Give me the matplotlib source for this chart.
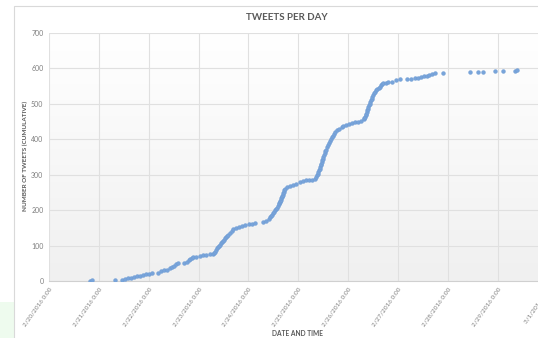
import numpy as np
import matplotlib.pyplot as plt
from matplotlib.patches import Rectangle
from matplotlib.colors import LinearSegmentedColormap
import datetime as dt

# Tweets per day (cumulative) - valores leidos del grafico
# dias desde 2/20/2016 0:00 y numero acumulado de tweets
dias = [0.82, 0.86, 1.32,
        1.46, 1.53, 1.59, 1.65, 1.71, 1.77, 1.83, 1.89, 1.95, 2.01, 2.07,
        2.19, 2.25, 2.31, 2.37, 2.43, 2.47, 2.51, 2.55, 2.59,
        2.71, 2.76, 2.80, 2.83, 2.86, 2.89, 2.95, 3.03, 3.09, 3.15, 3.23, 3.29,
        3.31, 3.33, 3.35, 3.37, 3.39, 3.41, 3.43, 3.45, 3.47, 3.49, 3.51, 3.53,
        3.55, 3.57, 3.59, 3.63, 3.67, 3.70, 3.75, 3.81, 3.87, 3.93, 4.01, 4.07, 4.13,
        4.30, 4.35, 4.41, 4.43, 4.45, 4.48, 4.50, 4.52, 4.53, 4.55, 4.57, 4.59,
        4.61, 4.62, 4.63, 4.64, 4.65, 4.66, 4.67, 4.68, 4.69, 4.70, 4.71, 4.72, 4.73,
        4.77, 4.84, 4.90, 4.96, 5.04, 5.10, 5.16, 5.22, 5.28, 5.34,
        5.36, 5.38, 5.39, 5.40, 5.41, 5.43, 5.44, 5.45, 5.46, 5.47, 5.48, 5.49,
        5.50, 5.51, 5.53, 5.54, 5.56, 5.58, 5.60, 5.62, 5.64, 5.66, 5.68, 5.70,
        5.72, 5.74, 5.77, 5.82, 5.87, 5.90, 5.96, 6.02, 6.08, 6.14, 6.20, 6.26,
        6.31, 6.32, 6.34, 6.35, 6.36, 6.37, 6.38, 6.39, 6.40, 6.41, 6.43, 6.44,
        6.45, 6.47, 6.48, 6.50, 6.52, 6.54, 6.56, 6.58, 6.61, 6.63, 6.66, 6.68,
        6.71, 6.76, 6.81, 6.88, 6.96, 7.04, 7.18, 7.26, 7.34, 7.41, 7.46, 7.52,
        7.58, 7.62, 7.68, 7.74, 7.91,
        8.45, 8.61, 8.71, 8.95, 9.11, 9.35, 9.38]
tweets = [1, 2, 3,
          4, 6, 8, 9, 11, 13, 15, 17, 19, 21, 22,
          23, 27, 30, 32, 37, 40, 42, 47, 50,
          52, 54, 58, 62, 65, 68, 69, 71, 72, 73, 75, 76,
          79, 83, 87, 92, 95, 99, 102, 106, 110, 113, 117, 120,
          124, 127, 130, 135, 141, 146, 150, 152, 155, 158, 161, 162, 165,
          166, 169, 176, 180, 183, 187, 191, 195, 199, 203, 207, 211,
          216, 219, 223, 227, 230, 233, 237, 241, 244, 248, 252, 256, 260,
          265, 268, 272, 275, 279, 281, 284, 285, 286, 289,
          293, 298, 303, 308, 312, 317, 322, 327, 331, 336, 341, 345,
          350, 355, 361, 366, 371, 378, 384, 390, 395, 400, 406, 410,
          415, 420, 426, 430, 435, 437, 440, 443, 446, 449, 450, 452,
          456, 460, 464, 468, 472, 477, 482, 486, 491, 496, 500, 505,
          510, 514, 519, 525, 531, 534, 538, 541, 544, 548, 552, 555,
          558, 560, 562, 563, 566, 569, 570, 571, 572, 574, 576, 578,
          579, 581, 584, 586, 587,
          589, 590, 591, 592, 593, 594, 596]

inicio = dt.datetime(2016, 2, 20)
fechas_ticks = [inicio + dt.timedelta(days=d) for d in range(11)]
etiquetas_x = ["%d/%d/2016 0:00" % (f.month, f.day) for f in fechas_ticks]
ticks_y = [0, 100, 200, 300, 400, 500, 600, 700]

plt.rcParams['font.family'] = ['Lato', 'DejaVu Sans']

W, H = 538, 338
fig = plt.figure(figsize=(W / 100, H / 100), dpi=100)
fig.patch.set_facecolor("white")

# fondo verde claro abajo a la izquierda y marco del grafico
fig.patches.append(Rectangle((0, 0), 13.5 / W, (H - 302) / H, transform=fig.transFigure,
                             facecolor="#EEFBEE", edgecolor="none", zorder=-2))
fig.patches.append(Rectangle((14 / W, -0.1), 1.2, (H - 6) / H + 0.1, transform=fig.transFigure,
                             facecolor="white", edgecolor="#D9D9D9", linewidth=0.8, zorder=-1))

ax = fig.add_axes([49 / W, (H - 281) / H, 498.5 / W, 248 / H])
ax.set_zorder(2)
ax.set_facecolor("none")

x_fechas = [inicio + dt.timedelta(days=d) for d in dias]
ax.scatter(x_fechas, tweets, s=7.5, color="#78A4DA", edgecolors="#6C9AD3",
           linewidths=0.3, zorder=3)

# degradado del area de trazado
grad = np.linspace(1, 0, 100).reshape(-1, 1)
ax.imshow(grad, extent=[0, 1, 0, 1], transform=ax.transAxes, aspect="auto",
          cmap=LinearSegmentedColormap.from_list("g", ["#F0F0F0", "#FFFFFF"]),
          zorder=0)

ax.set_xlim(fechas_ticks[0], fechas_ticks[-1])
ax.set_ylim(0, 700)
ax.set_xticks(fechas_ticks)
ax.set_xticklabels(etiquetas_x, rotation=55, ha="right", va="top",
                   rotation_mode="anchor", fontsize=4.6, color="#7F7F7F")
ax.set_yticks(ticks_y)
ax.set_yticklabels([str(v) for v in ticks_y], fontsize=5, color="#7F7F7F")
ax.tick_params(axis="both", length=0)
ax.tick_params(axis="y", pad=4)
ax.tick_params(axis="x", pad=4)
ax.grid(True, color="#E0E0E0", linewidth=0.8, zorder=1)
ax.set_axisbelow(True)
for s in ["top", "right", "left"]:
    ax.spines[s].set_visible(False)
ax.spines["bottom"].set_color("#D0D0D0")
ax.spines["bottom"].set_linewidth(0.8)

fig.text(287 / W, 1 - 17 / H, "TWEETS PER DAY", ha="center", va="center",
         fontsize=7, fontweight="bold", color="#595959")
fig.text(25 / W, 1 - 156 / H, "NUMBER OF TWEETS (CUMULATIVE)", ha="center", va="center",
         rotation=90, fontsize=4.6, fontweight="bold", color="#595959")
fig.text(298 / W, 1 - 333 / H, "DATE AND TIME", ha="center", va="center",
         fontsize=4.8, fontweight="bold", color="#595959")

fig.savefig("out.png", dpi=100)
